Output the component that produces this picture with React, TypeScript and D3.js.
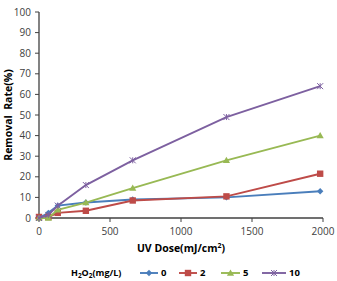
import React from 'react';
import * as d3 from 'd3';

const WIDTH = 337;
const HEIGHT = 281;

// UV dose (mJ/cm²) at each sampling point
const doses = [0, 66, 132, 330, 660, 1320, 1980];

// removal rate (%) per H2O2 dose (mg/L)
const removal0 = [0, 2.5, 6, 7.5, 9, 10, 13];
const removal2 = [0.5, 0.5, 2.5, 3.5, 8.5, 10.5, 21.5];
const removal5 = [0, 0, 4, 7.5, 14.5, 28, 40];
const removal10 = [0, 1.5, 6, 16, 28, 49, 64];

const seriesNames = ['0', '2', '5', '10'];
const xTicks = [0, 500, 1000, 1500, 2000];
const yTicks = [0, 10, 20, 30, 40, 50, 60, 70, 80, 90, 100];

const colors = ['#4a7ebb', '#be4b48', '#98b954', '#7d60a0'];
const FONT = '"Open Sans", "DejaVu Sans", sans-serif';

const margin = {top: 12, right: 14, bottom: 63, left: 39};

const Marker = ({kind, x, y, color}: {kind: number; x: number; y: number; color: string}) => {
    if (kind === 0) {
        const s = 3.2;
        return <path d={`M${x},${y - s}L${x + s},${y}L${x},${y + s}L${x - s},${y}Z`} fill={color}/>;
    }
    if (kind === 1) {
        return <rect x={x - 3.2} y={y - 3.2} width={6.4} height={6.4} fill={color}/>;
    }
    if (kind === 2) {
        const s = 3.6;
        return <path d={`M${x},${y - s}L${x + s},${y + s * 0.75}L${x - s},${y + s * 0.75}Z`} fill={color}/>;
    }
    const s = 3;
    return (
        <path d={`M${x - s},${y - s}L${x + s},${y + s}M${x - s},${y + s}L${x + s},${y - s}M${x},${y - s}L${x},${y + s}`}
              stroke={color} strokeWidth={1} fill="none"/>
    );
};

export default function App() {
    const innerW = WIDTH - margin.left - margin.right;
    const innerH = HEIGHT - margin.top - margin.bottom;

    const x = d3.scaleLinear().domain([0, 2000]).range([margin.left, margin.left + innerW]);
    const y = d3.scaleLinear().domain([0, 100]).range([margin.top + innerH, margin.top]);

    const series = [removal0, removal2, removal5, removal10];
    const line = d3.line<number>()
        .x((_, i) => x(doses[i]))
        .y(d => y(d));

    const axisColor = '#404040';
    const legendY = 273;
    const legendItems = [{x: 140, w: 18}, {x: 179, w: 18}, {x: 221, w: 19}, {x: 262, w: 24}];

    return (
        <svg width={WIDTH} height={HEIGHT} style={{position: 'absolute', left: 0, top: 0, background: '#fff'}}
             fontFamily={FONT}>
            {/* axes */}
            <line x1={x(0)} x2={x(0)} y1={y(100)} y2={y(0)} stroke={axisColor} strokeWidth={1.3}/>
            <line x1={x(0)} x2={x(2000)} y1={y(0)} y2={y(0)} stroke={axisColor} strokeWidth={1.3}/>
            {yTicks.map(t => (
                <g key={`y${t}`}>
                    <line x1={x(0) - 4} x2={x(0)} y1={y(t)} y2={y(t)} stroke={axisColor} strokeWidth={1}/>
                    <text x={x(0) - 8} y={y(t)} dy="0.35em" textAnchor="end" fontSize={10} fill="#404040">{t}</text>
                </g>
            ))}
            {xTicks.map(t => (
                <g key={`x${t}`}>
                    <line x1={x(t)} x2={x(t)} y1={y(0)} y2={y(0) + 4} stroke={axisColor} strokeWidth={1}/>
                    <text x={x(t)} y={y(0) + 17} textAnchor="middle" fontSize={10} fill="#404040">{t}</text>
                </g>
            ))}

            {/* axis titles */}
            <text x={x(1000)} y={252} textAnchor="middle" fontSize={10.5} fontWeight="bold" fill="#000">
                UV Dose(mJ/cm<tspan dy={-4} fontSize={7}>2</tspan><tspan dy={4}>)</tspan>
            </text>
            <text transform={`translate(12,${(y(0) + y(100)) / 2}) rotate(-90)`} textAnchor="middle"
                  fontSize={10.5} fontWeight="bold" fill="#000" style={{whiteSpace: 'pre'}}>
                {'Removal  Rate(%)'}
            </text>

            {/* series */}
            {series.map((vals, si) => (
                <g key={seriesNames[si]}>
                    <path d={line(vals) || ''} fill="none" stroke={colors[si]} strokeWidth={1.9}/>
                    {vals.map((v, i) => (
                        <Marker key={i} kind={si} x={x(doses[i])} y={y(v)} color={colors[si]}/>
                    ))}
                </g>
            ))}

            {/* legend */}
            <text x={71} y={legendY} dy="0.35em" fontSize={9} fontWeight="bold" fill="#000">
                H<tspan dy={2} fontSize={6.5}>2</tspan><tspan dy={-2}>O</tspan><tspan dy={2} fontSize={6.5}>2</tspan><tspan dy={-2}>(mg/L)</tspan>
            </text>
            {legendItems.map((it, si) => (
                <g key={`lg${si}`}>
                    <line x1={it.x} x2={it.x + it.w} y1={legendY} y2={legendY} stroke={colors[si]} strokeWidth={1.9}/>
                    <Marker kind={si} x={it.x + it.w / 2} y={legendY} color={colors[si]}/>
                    <text x={it.x + it.w + 3} y={legendY} dy="0.35em" fontSize={9.5} fontWeight="bold" fill="#000">
                        {seriesNames[si]}
                    </text>
                </g>
            ))}
        </svg>
    );
}
